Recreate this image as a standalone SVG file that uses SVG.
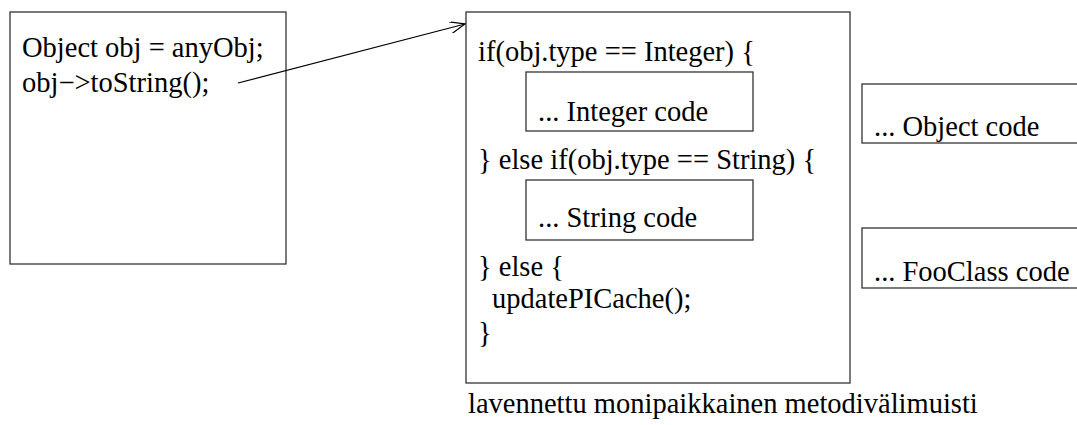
<svg xmlns="http://www.w3.org/2000/svg" width="1077" height="425" viewBox="0 0 1077 425">
<style>
.box{fill:none;stroke:#333;stroke-width:1.3}
text{font-family:"Liberation Serif","Times New Roman",serif;font-size:28.5px;fill:#000}
.conn{stroke:#000;stroke-width:1.2;fill:none}
</style>
<defs>
<marker id="open" markerWidth="16" markerHeight="12" refX="15" refY="6" orient="auto" markerUnits="userSpaceOnUse">
<path d="M0,0 L15,6 L0,12" fill="none" stroke="#000" stroke-width="1.2"/>
</marker>
</defs>
<rect width="1077" height="425" fill="#fff"/>
<g id="caller">
<rect class="box" x="10" y="12" width="276" height="252"/>
<text x="22" y="57">Object obj = anyObj;</text>
<text x="22" y="92">obj−&gt;toString();</text>
</g>
<g id="pic">
<rect class="box" x="466" y="12" width="384" height="371"/>
<text x="478" y="61">if(obj.type == Integer) {</text>
<text x="478" y="169">} else if(obj.type == String) {</text>
<text x="478" y="276">} else {</text>
<text x="492" y="308">updatePICache();</text>
<text x="478" y="342">}</text>
</g>
<g id="intcode">
<rect class="box" x="526" y="72" width="227" height="59"/>
<text x="538" y="121">... Integer code</text>
</g>
<g id="strcode">
<rect class="box" x="526" y="180" width="227" height="60"/>
<text x="538" y="227">... String code</text>
</g>
<g id="objcode">
<rect class="box" x="862" y="84" width="230" height="59"/>
<text x="874" y="136">... Object code</text>
</g>
<g id="foocode">
<rect class="box" x="862" y="228" width="230" height="60"/>
<text x="874" y="281">... FooClass code</text>
</g>
<g id="caption">
<text x="468" y="413">lavennettu monipaikkainen metodivälimuisti</text>
</g>
<g id="connectors">
<line class="conn" x1="238" y1="83" x2="465" y2="24" marker-end="url(#open)"/>
</g>
</svg>
